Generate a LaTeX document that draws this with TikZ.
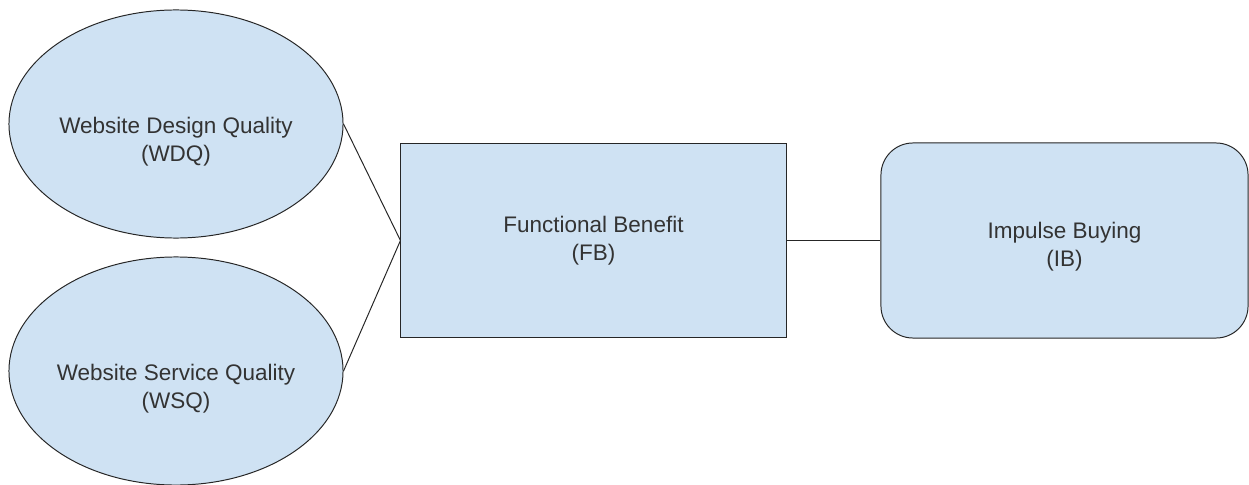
\documentclass[tikz,border=0pt]{standalone}
\usepackage{fontspec}
\setmainfont{Liberation Sans}
\usetikzlibrary{shapes.geometric}

\definecolor{boxfill}{HTML}{CFE2F3}
\definecolor{boxline}{HTML}{262626}
\definecolor{boxtext}{HTML}{333333}

\tikzset{
  construct/.style={draw=boxline, fill=boxfill, line width=0.7pt, inner sep=0pt,
    align=center, text=boxtext, font=\fontsize{16}{19.9}\selectfont},
  latentvar/.style={construct, ellipse, minimum width=8.35cm, minimum height=5.7cm},
  observed/.style={construct, rectangle, minimum width=9.625cm, minimum height=4.825cm},
  outcome/.style={construct, rectangle, rounded corners=0.8cm, minimum width=9.175cm, minimum height=4.875cm},
  caption/.style={align=center, text=boxtext, font=\fontsize{16}{19.9}\selectfont},
  link/.style={draw=boxline, line width=0.7pt}
}

\begin{document}
\begin{tikzpicture}[x=0.025cm, y=-0.025cm]
\useasboundingbox (0,0) rectangle (1249,485);

% Define nodes
\path (176,124)
node[latentvar, label={[caption, yshift=-0.45cm]center:Website Design Quality\\(WDQ)}] (wdq) {}
(176,371)
node[latentvar, label={[caption, yshift=-0.45cm]center:Website Service Quality\\(WSQ)}] (wsq) {}
(593.5,240.5)
node[observed] (fb) {Functional Benefit\\(FB)}
(1064.5,240.5)
node[outcome, label={[caption, yshift=-0.15cm]center:Impulse Buying\\(IB)}] (ib) {}
;

% Edges
\draw[link] (wdq.east) -- (fb.west);
\draw[link] (wsq.east) -- (fb.west);
\draw[link] (fb.east) -- (ib.west);

\end{tikzpicture}
\end{document}
